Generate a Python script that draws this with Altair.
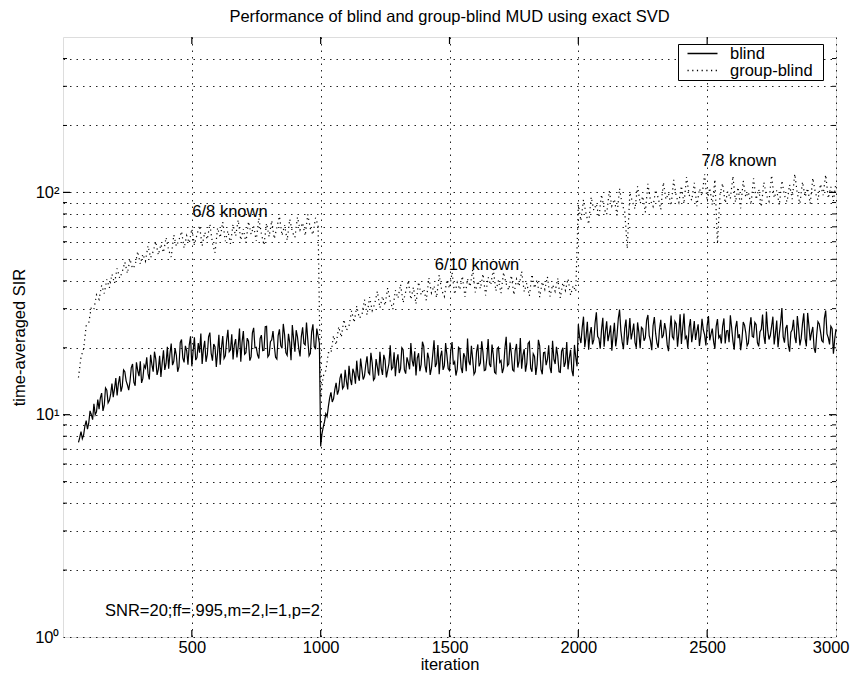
import altair as alt
import pandas as pd

FONT = "Liberation Sans"
FS = 16.5

# ---- data (time-averaged SIR) ----
# blind: one value every 5 iterations
blind_step = 5
blind_seg1_start = 60
blind_seg1 = [7.5, 7.9, 8.4, 7.8, 8.1, 8.9, 9.4, 8.6, 9.2, 10.4, 10.0, 9.5, 11.2, 10.0, 10.3, 11.7,
              10.6, 11.9, 12.5, 10.4, 11.0, 13.2, 12.9, 11.3, 11.6, 12.4, 13.8, 12.0, 13.1, 14.6,
              12.2, 13.8, 14.9, 12.7, 13.4, 15.9, 15.6, 14.2, 13.6, 12.9, 14.1, 16.3, 16.9, 14.0,
              13.5, 17.2, 15.8, 14.9, 17.4, 13.9, 14.6, 16.7, 16.2, 18.1, 15.3, 14.4, 18.6, 16.8,
              15.6, 19.2, 17.8, 15.1, 16.0, 18.4, 14.8, 17.1, 19.5, 15.9, 17.0, 20.2, 16.1, 18.8,
              20.9, 16.7, 17.4, 19.9, 18.5, 15.6, 16.4, 21.1, 21.8, 18.0, 17.2, 20.4, 19.4, 16.8,
              20.6, 22.5, 16.5, 19.3, 22.3, 17.6, 18.1, 21.0, 19.0, 23.2, 16.9, 19.7, 21.5, 17.3,
              18.6, 22.4, 23.4, 18.9, 17.5, 20.8, 20.2, 16.4, 19.1, 22.9, 16.8, 20.0, 22.6, 17.9,
              18.4, 21.6, 24.1, 19.2, 19.6, 23.0, 17.7, 20.6, 21.9, 18.1, 20.3, 24.4, 17.3, 21.2,
              23.8, 18.7, 19.0, 22.1, 21.4, 17.5, 18.2, 23.3, 24.6, 20.0, 20.1, 18.6, 17.9, 22.0,
              22.8, 19.4, 19.5, 24.9, 25.0, 18.2, 18.6, 21.3, 21.7, 23.8, 20.4, 18.1, 17.8, 22.7,
              24.2, 20.5, 19.9, 25.6, 22.9, 19.0, 18.5, 23.1, 21.1, 17.6, 25.3, 21.9, 19.2, 24.0,
              22.4, 19.8, 18.3, 22.5, 24.7, 20.9, 20.6, 26.0, 21.8, 18.4, 18.9, 23.6, 25.5, 20.3,
              19.7, 24.4, 22.6, 21.0]
blind_seg2_start = 1000
blind_seg2 = [7.2, 8.2, 8.8, 9.3, 10.1, 9.8, 10.9, 11.9, 12.6, 11.4, 11.8, 13.0, 13.9, 12.3, 12.9,
              14.6, 15.3, 13.1, 13.4, 15.9, 14.1, 13.0, 16.6, 14.5, 13.6, 16.1, 15.4, 13.8, 17.5,
              15.0, 14.2, 17.9, 16.0, 14.4, 14.9, 16.8, 18.3, 15.5, 15.2, 19.0, 17.1, 14.3, 14.6,
              17.8, 16.4, 15.0, 19.2, 16.2, 15.1, 18.6, 17.6, 14.7, 15.8, 17.0, 20.5, 16.0, 16.3,
              19.1, 14.9, 17.5, 18.7, 15.4, 16.1, 20.0, 19.6, 15.9, 15.3, 18.1, 17.2, 16.0, 21.0,
              17.6, 16.5, 19.3, 15.0, 18.0, 18.9, 15.7, 16.8, 21.3, 20.3, 16.6, 15.5, 19.0, 17.9,
              15.1, 16.2, 18.7, 21.6, 16.4, 17.0, 20.6, 15.2, 18.3, 19.4, 15.9, 16.6, 21.0, 18.5,
              16.1, 15.8, 19.5, 21.2, 16.8, 17.3, 15.0, 16.0, 20.1, 19.8, 16.3, 15.4, 18.9, 18.2,
              15.7, 22.0, 17.4, 16.7, 20.4, 17.8, 15.2, 15.6, 19.2, 20.7, 16.5, 17.1, 21.4, 19.0,
              15.8, 15.9, 18.0, 21.9, 16.9, 16.4, 20.7, 18.6, 15.5, 15.3, 19.8, 20.1, 17.2, 17.5,
              15.4, 16.2, 19.9, 22.4, 16.6, 16.9, 21.1, 18.8, 15.9, 15.7, 19.4, 20.8, 16.3, 17.4,
              22.1, 16.1, 18.5, 19.7, 15.6, 17.0, 20.9, 21.3, 16.2, 15.6, 18.8, 18.3, 15.1, 16.8,
              21.7, 20.4, 16.0, 15.2, 19.0, 19.1, 16.7, 17.7, 20.5, 16.3, 15.4, 21.5, 17.8, 16.9,
              20.2, 18.4, 15.6, 15.5, 19.3, 20.0, 16.4, 17.2, 21.2, 16.0, 18.0, 19.6, 15.8, 14.9,
              20.6, 18.1, 16.5]
blind_seg3_start = 2000
blind_seg3 = [25.5, 22.3, 21.0, 24.6, 27.6, 20.1, 22.4, 26.2, 19.6, 23.0, 24.8, 20.7, 21.7, 25.9,
              28.9, 22.5, 22.0, 19.8, 24.1, 27.3, 20.2, 23.6, 26.3, 21.4, 23.0, 25.2, 19.4, 22.8,
              25.9, 20.3, 22.6, 27.0, 29.7, 23.9, 21.3, 19.7, 24.5, 26.8, 20.6, 22.9, 27.2, 21.8,
              23.5, 25.7, 21.1, 20.0, 26.0, 23.4, 19.9, 24.7, 24.3, 21.5, 22.2, 26.6, 28.1, 22.7,
              21.5, 19.5, 25.1, 27.5, 23.2, 21.0, 20.0, 24.2, 26.7, 22.1, 22.8, 25.8, 24.0, 20.6,
              19.3, 23.7, 27.9, 22.4, 21.9, 26.3, 25.6, 20.2, 23.4, 28.3, 20.8, 24.5, 28.5, 22.0,
              22.5, 19.9, 24.7, 26.9, 21.2, 23.3, 26.4, 21.7, 23.7, 25.5, 20.4, 22.6, 27.0, 24.1,
              22.9, 20.5, 25.2, 27.8, 21.6, 23.1, 24.4, 21.3, 19.8, 25.0, 26.9, 22.2, 22.7, 20.9,
              25.0, 27.1, 20.9, 23.8, 23.9, 21.2, 28.0, 24.6, 21.4, 19.6, 24.6, 26.4, 22.1, 23.0,
              19.5, 21.8, 26.1, 25.3, 23.3, 20.4, 21.0, 24.8, 27.4, 22.5, 22.3, 26.0, 25.4, 21.1,
              20.3, 23.6, 24.2, 28.2, 22.6, 20.8, 29.1, 24.0, 21.8, 22.7, 24.9, 27.6, 20.7, 23.2,
              26.5, 20.1, 23.1, 25.9, 30.2, 22.4, 21.1, 24.5, 25.3, 20.6, 19.2, 23.5, 24.1, 26.7,
              22.4, 21.0, 27.8, 24.3, 20.5, 22.1, 25.7, 28.6, 22.0, 20.3, 28.7, 25.1, 21.6, 23.4,
              24.8, 19.9, 19.0, 22.8, 26.2, 25.6, 23.6, 21.5, 21.2, 27.2, 29.4, 23.1, 22.2, 20.7,
              25.0, 24.4, 18.8, 21.9, 24.3]

# group-blind: one value every 10 iterations
group_step = 10
group_seg1_start = 60
group_seg1 = [14.7, 18.2, 19.8, 25.1, 26.0, 30.4, 29.8, 34.6, 33.0, 38.2, 35.1, 40.6, 37.2, 42.8,
              39.0, 45.5, 41.1, 43.9, 48.6, 43.2, 50.1, 45.4, 47.0, 54.3, 47.6, 52.8, 49.1, 57.5,
              50.9, 54.2, 60.1, 52.3, 58.4, 53.6, 62.7, 55.0, 51.2, 64.4, 57.3, 61.0, 66.8, 56.1,
              63.9, 59.2, 68.5, 58.0, 64.6, 70.9, 57.4, 66.2, 61.4, 72.0, 59.0, 53.5, 69.3, 62.5,
              73.6, 60.3, 67.1, 58.7, 71.8, 63.6, 75.2, 61.0, 68.4, 59.5, 73.9, 64.8, 70.2, 60.6,
              76.5, 65.1, 57.9, 72.6, 63.2, 74.7, 61.8, 69.5, 78.1, 64.0, 71.3, 60.9, 75.8, 66.4,
              62.7, 77.4, 67.9, 73.0, 63.8, 79.6, 68.8, 64.5, 76.9, 71.2]
group_seg2_start = 1000
group_seg2 = [12.0, 14.9, 15.8, 19.0, 18.9, 22.7, 20.6, 24.9, 22.3, 26.8, 24.0, 25.1, 29.3, 26.0,
              30.8, 27.2, 28.0, 32.9, 28.1, 33.8, 29.4, 31.6, 35.9, 30.2, 34.1, 31.0, 37.2, 32.5,
              29.8, 36.3, 33.4, 38.6, 31.9, 35.7, 40.1, 33.0, 37.4, 31.5, 39.5, 34.6, 36.8, 32.7,
              41.2, 35.3, 38.0, 33.6, 42.5, 36.2, 34.0, 40.4, 37.0, 43.6, 34.8, 39.3, 36.5, 42.0,
              33.9, 40.8, 37.7, 44.9, 35.5, 39.9, 36.9, 43.0, 34.4, 41.5, 38.3, 45.2, 36.0, 40.2,
              35.2, 43.7, 38.8, 36.4, 42.3, 34.6, 40.7, 37.8, 44.1, 35.7, 39.0, 34.2, 42.8, 37.1,
              40.5, 33.8, 39.6, 36.6, 41.7, 34.0, 38.4, 35.9, 41.0, 33.5, 39.2, 36.2, 40.9, 34.5,
              38.1, 35.8]
group_seg3_start = 2000
group_seg3 = [88.0, 74.5, 92.6, 80.1, 71.9, 95.3, 83.0, 88.7, 77.2, 97.8, 84.5, 79.6, 101.4, 86.9,
              93.2, 78.8, 104.1, 88.3, 82.0, 56.0, 99.7, 90.6, 84.2, 106.5, 89.1, 96.0, 81.3, 109.2,
              91.8, 86.4, 102.6, 94.5, 83.7, 111.0, 93.0, 99.1, 87.2, 113.8, 95.7, 90.0, 106.9,
              88.8, 117.2, 97.5, 92.1, 110.4, 86.6, 103.8, 96.3, 120.5, 91.4, 104.7, 87.9, 114.3,
              58.5, 98.2, 109.8, 89.5, 101.0, 93.6, 118.4, 90.3, 105.5, 84.8, 112.6, 95.0, 100.2,
              88.0, 115.6, 92.9, 103.3, 86.0, 110.9, 97.0, 91.2, 119.3, 94.4, 102.1, 87.6, 113.0,
              96.8, 90.7, 108.2, 93.3, 121.0, 98.6, 89.2, 111.5, 95.4, 104.4, 88.9, 116.1, 99.5,
              92.5, 109.0, 97.2, 120.0, 94.0, 105.9, 91.6, 110.7]

series_names = ["blind", "group-blind"]

annot_text = ["6/8 known", "6/10 known", "7/8 known"]
annot_x = [648, 1607, 2624]
annot_y = [82.0, 46.9, 138.0]

info_text = ["SNR=20;ff=.995,m=2,l=1,p=2"]
info_x = [163]
info_y = [1.31]

x_ticks = [500, 1000, 1500, 2000, 2500, 3000]
y_major = [1, 10, 100]
y_minor = [2, 3, 4, 5, 6, 7, 8, 9, 20, 30, 40, 50, 60, 70, 80, 90, 200, 300, 400]
y_label_map = {1: "10\u2070", 10: "10\u00b9", 100: "10\u00b2"}

# ---- build tables ----
rows = []
for name, step, segs in [
        ("blind", blind_step, [(blind_seg1_start, blind_seg1), (blind_seg2_start, blind_seg2),
                               (blind_seg3_start, blind_seg3)]),
        ("group-blind", group_step, [(group_seg1_start, group_seg1),
                                     (group_seg2_start, group_seg2),
                                     (group_seg3_start, group_seg3)])]:
    for start, vals in segs:
        for i, v in enumerate(vals):
            rows.append({"iteration": start + step * i, "sir": v, "series": name})
df = pd.DataFrame(rows)

annot_df = pd.DataFrame({"iteration": annot_x, "sir": annot_y, "label": annot_text})
info_df = pd.DataFrame({"iteration": info_x, "sir": info_y, "label": info_text})
xtick_df = pd.DataFrame({"iteration": x_ticks[:-1]})
ymaj_df = pd.DataFrame({"sir": y_major[1:]})
ymin_df = pd.DataFrame({"sir": y_minor})

W, H = 773, 600
xscale = alt.Scale(domain=[0, 3000], nice=False, zero=False)
yscale = alt.Scale(type="log", domain=[1, 500], nice=False)

label_expr = " : ".join(
    [f"datum.value == {k} ? '{v}'" for k, v in y_label_map.items()]) + " : ''"

x_axis = alt.Axis(values=x_ticks, format="d", grid=True, gridDash=[1.5, 5],
                  gridColor="#222", gridWidth=1, ticks=False, tickSize=0,
                  domain=False, labelFont=FONT, labelFontSize=FS, labelColor="black",
                  labelPadding=2, labelFlush=True, labelFlushOffset=13,
                  titleFont=FONT, titleFontSize=FS, titleFontWeight="normal",
                  titleColor="black", titleBaseline="alphabetic", titleY=32)
y_axis = alt.Axis(values=y_major + y_minor, labelExpr=label_expr, grid=True,
                  gridDash=[1.5, 5], gridColor="#222", gridWidth=1, ticks=False,
                  tickSize=0, domain=False, labelFont=FONT, labelFontSize=FS,
                  labelColor="black", labelPadding=4, labelFlush=False,
                  titleFont=FONT, titleFontSize=FS, titleFontWeight="normal",
                  titleColor="black", titleX=-44, titleY=300, titleAngle=270,
                  titleBaseline="middle", titleAlign="center")

X = alt.X("iteration:Q", scale=xscale, title="iteration", axis=x_axis)
Y = alt.Y("sir:Q", scale=yscale, title="time-averaged SIR", axis=y_axis)

lines = alt.Chart(df).mark_line(color="black", strokeWidth=1.2).encode(
    x=X, y=Y,
    strokeDash=alt.StrokeDash(
        "series:N",
        scale=alt.Scale(domain=series_names, range=[[1, 0], [1.2, 3.5]]),
        legend=alt.Legend(title=None, orient="none", legendX=615, legendY=7,
                          symbolType="M0,0H4", symbolSize=225, symbolStrokeWidth=1.3,
                          symbolStrokeColor="black", symbolFillColor="transparent",
                          labelFont=FONT, labelFontSize=FS, labelColor="black",
                          labelOffset=34,
                          labelExpr="datum.label + '\u00a0\u00a0\u200b'",
                          strokeColor="black", fillColor="white", padding=1,
                          rowPadding=0)),
)

annots = alt.Chart(annot_df).mark_text(font=FONT, fontSize=FS, color="black",
                                       align="center", baseline="middle").encode(
    x=X, y=Y, text="label:N")

info = alt.Chart(info_df).mark_text(font=FONT, fontSize=FS, color="black",
                                    align="left", baseline="middle").encode(
    x=X, y=Y, text="label:N")

xt_bottom = alt.Chart(xtick_df).mark_rule(color="black", strokeWidth=1.2).encode(
    x=X, y=alt.value(H), y2=alt.value(H - 7))
xt_top = alt.Chart(xtick_df).mark_rule(color="black", strokeWidth=1.2).encode(
    x=X, y=alt.value(0), y2=alt.value(7))
ymaj_left = alt.Chart(ymaj_df).mark_rule(color="black", strokeWidth=1.2).encode(
    y=Y, x=alt.value(0), x2=alt.value(7))
ymaj_right = alt.Chart(ymaj_df).mark_rule(color="black", strokeWidth=1.2).encode(
    y=Y, x=alt.value(W), x2=alt.value(W - 7))
ymin_left = alt.Chart(ymin_df).mark_rule(color="black", strokeWidth=1).encode(
    y=Y, x=alt.value(0), x2=alt.value(4))
ymin_right = alt.Chart(ymin_df).mark_rule(color="black", strokeWidth=1).encode(
    y=Y, x=alt.value(W), x2=alt.value(W - 4))

chart = alt.layer(
    lines, annots, info, xt_bottom, xt_top, ymaj_left, ymaj_right, ymin_left, ymin_right
).properties(
    width=W, height=H,
    title=alt.TitleParams(text="Performance of blind and group-blind MUD using exact SVD",
                          font=FONT, fontSize=FS, fontWeight="normal", color="black",
                          anchor="middle", baseline="alphabetic", offset=14, dy=16,
                          frame="group"),
    autosize=alt.AutoSizeParams(type="none"),
    padding={"left": 55, "top": 29, "right": 14, "bottom": 36},
).configure_view(stroke="black", strokeWidth=1.5).configure(background="white")

chart.save("out.html", embed_options={"renderer": "svg", "actions": False})
